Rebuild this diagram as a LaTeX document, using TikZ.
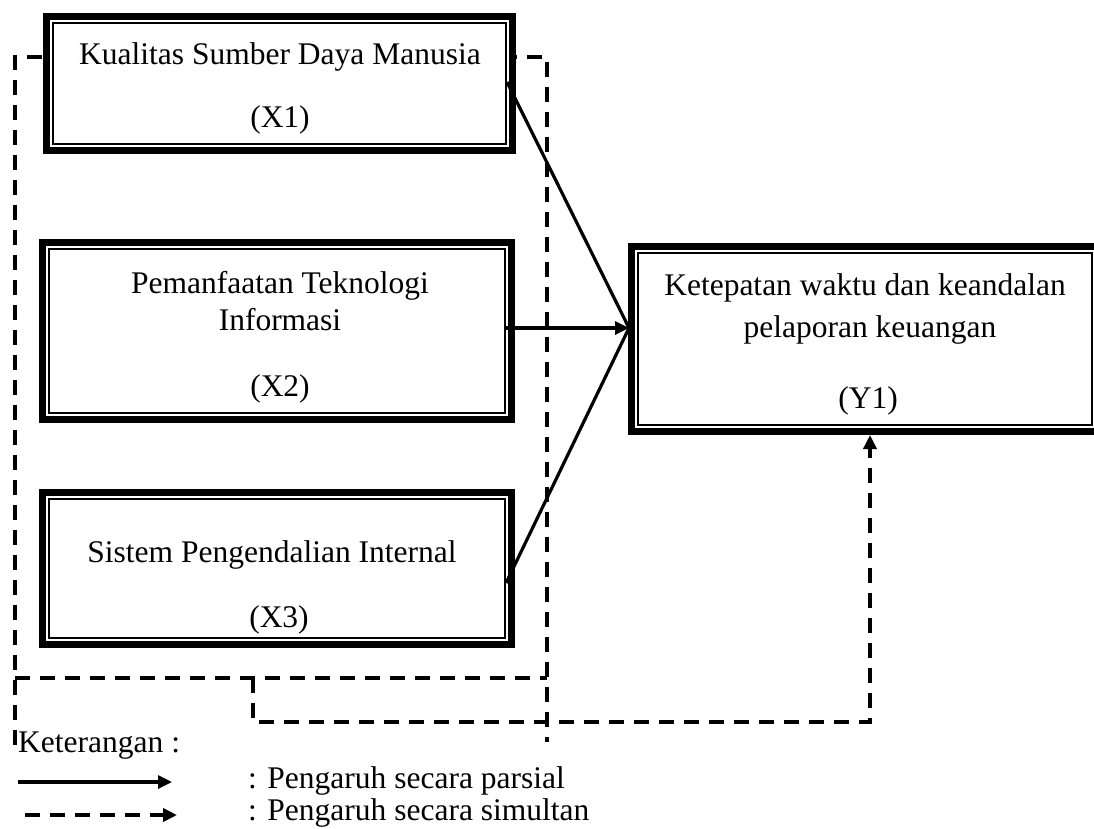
\documentclass[tikz,border=0pt]{standalone}
\usepackage{fontspec}
\setmainfont{Liberation Serif}
\usetikzlibrary{arrows.meta}

\begin{document}
\begin{tikzpicture}[x=1pt, y=-1pt,
      var box/.style={draw, line width=1.6pt, fill=white, inner sep=0pt,
        preaction={draw, line width=19.6pt},
        preaction={draw=white, line width=5.6pt}},
      var text/.style={font=\fontsize{31.5}{38}\selectfont, inner sep=0pt, anchor=base},
      partial/.style={line width=3.2pt},
      simul/.style={line width=4pt, dash pattern=on 15pt off 10pt},
      arrowtip/.style={-{Triangle[length=14pt, width=13pt]}},
      ]
        \useasboundingbox (0,0) rectangle (1094,828);

        % dashed frame round the three variables
        \draw[simul] (15,745) -- (15,57) -- (547,57) -- (547,742);
        \draw[simul] (15,678) -- (547,678);

        \node[var box, minimum width=453.4pt, minimum height=121.4pt] (X1) at (279.5,83.5) {};
        \node[var box, minimum width=456.4pt, minimum height=164.4pt] (X2) at (277,331) {};
        \node[var box, minimum width=456.4pt, minimum height=139.4pt] (X3) at (277,568.5) {};
        \node[var box, minimum width=454.2pt, minimum height=172.4pt] (Y1) at (864.9,339) {};

        \node[var text] (X1-name) at (280,64) {Kualitas Sumber Daya Manusia};
        \node[var text] (X1-code) at (280,127) {(X1)};
        \node[var text] (X2-name) at (280,293) {Pemanfaatan Teknologi};
        \node[var text] (X2-name2) at (280,330) {Informasi};
        \node[var text] (X2-code) at (280,396) {(X2)};
        \node[var text] (X3-name) at (272,562) {Sistem Pengendalian Internal};
        \node[var text] (X3-code) at (279,627) {(X3)};
        \node[var text] (Y1-name) at (865,295) {Ketepatan waktu dan keandalan};
        \node[var text] (Y1-name2) at (870,337) {pelaporan keuangan};
        \node[var text] (Y1-code) at (868,408) {(Y1)};

        % partial effects
        \coordinate (conv) at (629,328);
        \draw[partial] ([yshift=1.5pt]X1.east) -- (conv);
        \draw[partial, arrowtip] (X2.east |- conv) -- (conv);
        \draw[partial] ([yshift=-14.5pt]X3.east) -- (conv);

        % simultaneous effect
        \coordinate (step) at (253,678);
        \coordinate (turn) at (870,722);
        \draw[simul, arrowtip, shorten >=9pt] (step) |- (turn) -- (turn |- Y1.south);

        % legend
        \node[var text, anchor=base west] (legend) at (18,752) {Keterangan :};
        \coordinate (ps) at (18,782);
        \coordinate (pe) at (172,782);
        \draw[partial, arrowtip] (ps) -- (pe);
        \node[var text, anchor=base west] (parsial) at (248,788) {: Pengaruh secara parsial};
        \coordinate (ss) at (25,815);
        \coordinate (se) at (177,815);
        \draw[simul, arrowtip] (ss) -- (se);
        \node[var text, anchor=base west] (simultan) at (248,820) {: Pengaruh secara simultan};

        \end{tikzpicture}
\end{document}
